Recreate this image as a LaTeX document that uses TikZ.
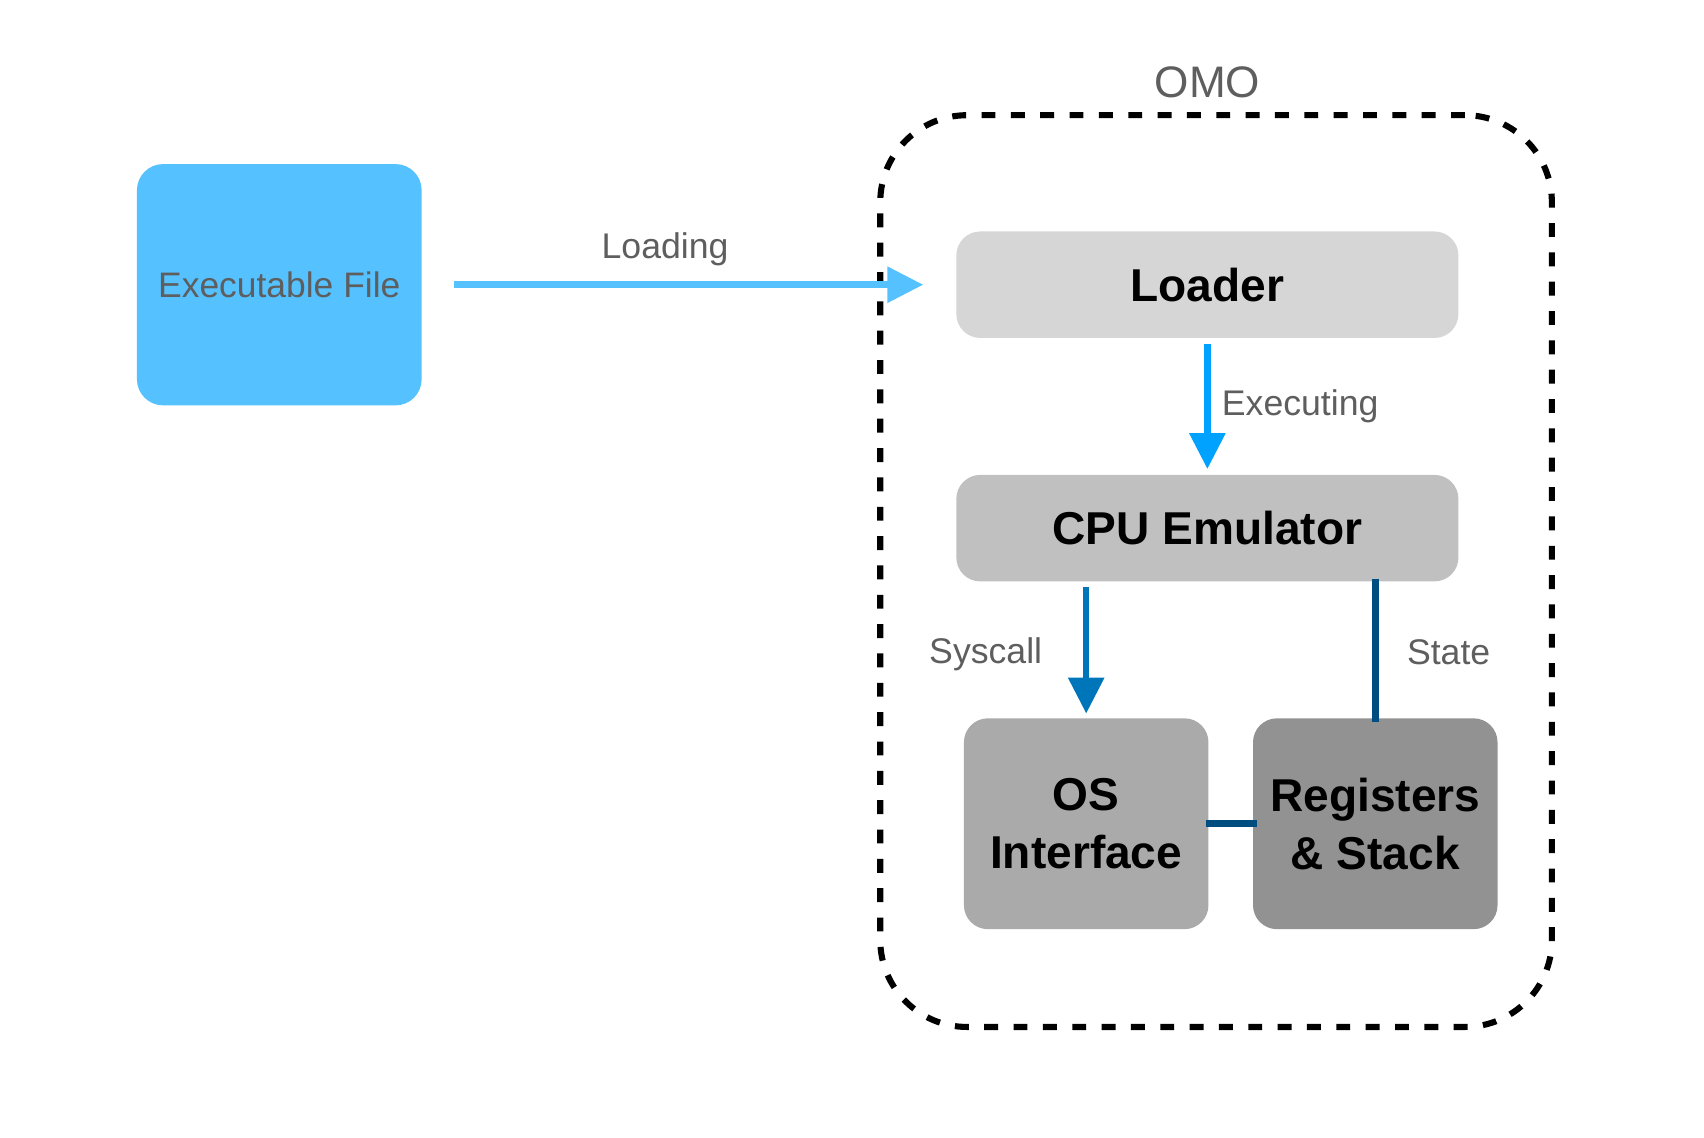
\documentclass[tikz,border=0pt]{standalone}
\usepackage{fontspec}
\setmainfont{Liberation Sans}
\usetikzlibrary{arrows.meta}
\definecolor{exeblue}{HTML}{56C1FF}
\definecolor{execblue}{HTML}{00A2FF}
\definecolor{sysblue}{HTML}{0076BA}
\definecolor{stateblue}{HTML}{004D80}
\definecolor{txtgray}{HTML}{5E5E5E}
\definecolor{gA}{HTML}{D6D6D6}
\definecolor{gB}{HTML}{C0C0C0}
\definecolor{gC}{HTML}{AAAAAA}
\definecolor{gD}{HTML}{929292}
\tikzset{
  blk/.style={rounded corners=11pt, inner sep=0pt, align=center, text=black,
    font=\fontsize{21.2}{26.5}\selectfont\bfseries},
  lbl/.style={text=txtgray, inner sep=0pt, font=\fontsize{16.4}{20}\selectfont},
  arr/.style={line width=3pt, -{Triangle[length=16.5pt,width=16pt]}},
  plain/.style={line width=3pt},
}
\begin{document}
\begin{tikzpicture}[x=0.5pt,y=-0.5pt]
\useasboundingbox (0,0) rectangle (1568,1047);
% OMO container
\node[draw=black, line width=2.8pt, dash pattern=on 6.4pt off 7.1pt,
  rounded corners=40pt, minimum width=309pt, minimum height=419.5pt, inner sep=0pt]
  (omo) at (1119,525.5) {};
\node[text=txtgray, inner sep=0pt, font=\fontsize{20.3}{24}\selectfont] (omolbl) at (1111,76) {OMO};
% boxes
\node[blk, fill=exeblue, rounded corners=12pt, minimum width=131pt, minimum height=111pt,
  text=txtgray, font=\fontsize{16.3}{20}\selectfont] (exe) at (257,262) {Executable File};
\node[blk, fill=gA, minimum width=231pt, minimum height=49pt] (loader) at (1111,262) {Loader};
\node[blk, fill=gB, minimum width=231pt, minimum height=49pt] (cpu) at (1111,486) {CPU Emulator};
\node[blk, fill=gC, minimum width=112.5pt, minimum height=97pt] (os) at (999.5,758) {OS\\Interface};
\node[blk, fill=gD, minimum width=112.5pt, minimum height=97pt] (reg) at (1265.5,758) {Registers\\\& Stack};
% connectors
\draw[arr, draw=exeblue, fill=exeblue] ([xshift=14.5pt]exe.east) -- ([xshift=-15pt]loader.west);
\draw[arr, draw=execblue, fill=execblue] ([yshift=-2.5pt]loader.south) -- ([yshift=2.5pt]cpu.north);
\draw[arr, draw=sysblue, fill=sysblue] ([yshift=-2.5pt]cpu.south -| os.north) -- ([yshift=2pt]os.north);
\draw[plain, draw=stateblue] ([yshift=1.5pt]cpu.south -| reg.north) -- ([yshift=-2pt]reg.north);
\draw[plain, draw=stateblue] ([xshift=-1.5pt]os.east) -- ([xshift=2pt]reg.west);
% labels
\node[lbl] (lload) at (612,229) {Loading};
\node[lbl, anchor=west] (lexec) at (1124,374) {Executing};
\node[lbl] (lsys) at (907,602) {Syscall};
\node[lbl] (lstate) at (1333,600) {State};
\end{tikzpicture}
\end{document}
